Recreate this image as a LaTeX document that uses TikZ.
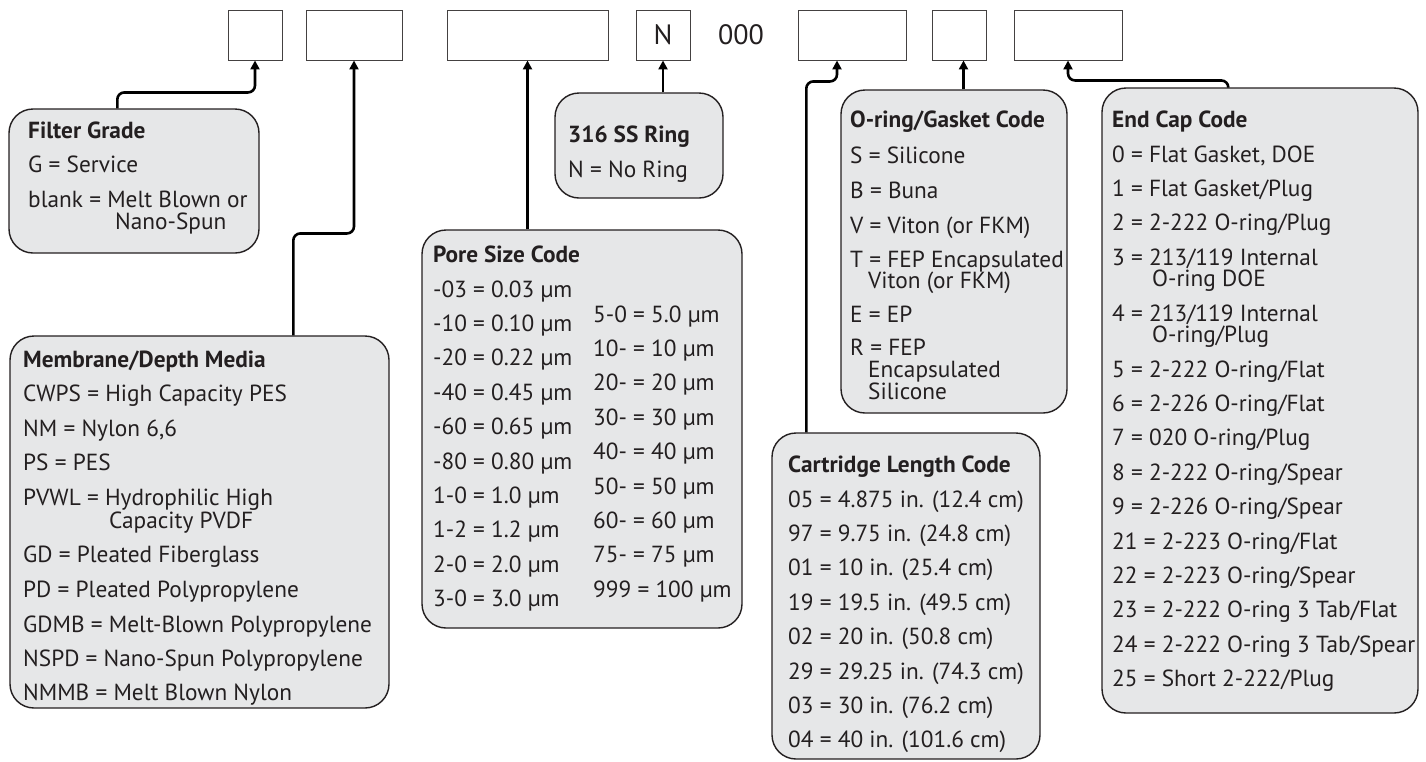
\documentclass[tikz,border=0pt]{standalone}
\usepackage{fontspec}
\setmainfont{PT Sans}
\usetikzlibrary{arrows.meta}
\definecolor{ink}{HTML}{231F20}
\definecolor{panel}{HTML}{E6E7E8}
\begin{document}
\begin{tikzpicture}[x=1pt,y=-1pt,
  codebox/.style={draw=ink!85, line width=0.9pt, fill=white, inner sep=0pt},
  infobox/.style={draw=ink, line width=1.4pt, fill=panel, rounded corners=24pt, inner sep=0pt},
  conn/.style={draw=black, line width=2.6pt, rounded corners=7pt, -{Triangle[length=9pt,width=9pt]}},
  txt/.style={anchor=base west, inner sep=0pt, text=ink, font=\fontsize{23.3}{28}\selectfont},
  ttl/.style={txt, font=\fontsize{23.3}{28}\selectfont\bfseries},
  big/.style={inner sep=0pt, text=ink, font=\fontsize{28}{32}\selectfont}]
\useasboundingbox (0,0) rectangle (1426,761);

% top code boxes
\node[codebox, minimum width=54pt, minimum height=50pt] (b1) at (255,35) {};
\node[codebox, minimum width=96pt, minimum height=50pt] (b2) at (354,35) {};
\node[codebox, minimum width=161pt, minimum height=50pt] (b3) at (527.5,35) {};
\node[codebox, minimum width=54pt, minimum height=50pt] (bn) at (663,35) {};
\node[big] (nlet) at (663,35) {N};
\node[big] (zeros) at (741,35) {000};
\node[codebox, minimum width=108pt, minimum height=50pt] (b5) at (852,35) {};
\node[codebox, minimum width=54pt, minimum height=50pt] (b6) at (959.5,35) {};
\node[codebox, minimum width=108pt, minimum height=50pt] (b7) at (1068,35) {};

% info boxes
\node[infobox, minimum width=250pt, minimum height=144pt] (fg) at (134,181) {};
\node[infobox, minimum width=379pt, minimum height=372pt] (mm) at (199.5,522) {};
\node[infobox, minimum width=320pt, minimum height=398pt] (ps) at (582,429) {};
\node[infobox, minimum width=168pt, minimum height=105pt] (ring) at (639,145.5) {};
\node[infobox, minimum width=268pt, minimum height=326pt] (cl) at (906,596) {};
\node[infobox, minimum width=226pt, minimum height=323pt] (og) at (954,251.5) {};
\node[infobox, minimum width=316pt, minimum height=625pt] (ec) at (1260,400.5) {};

% connectors
\draw[conn] ([xshift=109pt]fg.north west) |- ([yshift=-32pt]b1.south) -- (b1.south);
\draw[conn] ([xshift=284pt]mm.north west) |- ([yshift=-173pt]b2.south) -- (b2.south);
\draw[conn] (b3.south |- ps.north) -- (b3.south);
\draw[conn] (bn.south |- ring.north) -- (bn.south);
\coordinate (b5in) at ([xshift=-15pt]b5.south);
\draw[conn] ([xshift=35pt]cl.north west) |- ([yshift=-21pt]b5in) -- (b5in);
\coordinate (b6in) at ([xshift=4pt]b6.south);
\draw[conn] (b6in |- og.north) -- (b6in);
\draw[conn] ([xshift=127pt]ec.north west) |- ([yshift=-20pt]b7.south) -- (b7.south);

% Filter Grade
\node[ttl] (fgt) at (28,138) {Filter Grade};
\node[txt] (fg1) at (28,172) {G = Service};
\node[txt] (fg2) at (28,207) {blank = Melt Blown or};
\node[txt] (fg3) at (115,229) {Nano-Spun};

% Membrane
\node[ttl] (mmt) at (23,367) {Membrane/Depth Media};
\node[txt] (mm1) at (23,401) {CWPS = High Capacity PES};
\node[txt] (mm2) at (23,436) {NM = Nylon 6,6};
\node[txt] (mm3) at (23,470) {PS = PES};
\node[txt] (mm4) at (23,505) {PVWL = Hydrophilic High};
\node[txt] (mm4b) at (109,528) {Capacity PVDF};
\node[txt] (mm5) at (23,562) {GD = Pleated Fiberglass};
\node[txt] (mm6) at (23,597) {PD = Pleated Polypropylene};
\node[txt] (mm7) at (23,632) {GDMB = Melt-Blown Polypropylene};
\node[txt] (mm8) at (23,666) {NSPD = Nano-Spun Polypropylene};
\node[txt] (mm9) at (23,700) {NMMB = Melt Blown Nylon};

% Pore size
\node[ttl] (pst) at (433,262) {Pore Size Code};
\node[txt] (pa0) at (433,297.0) {-03 = 0.03 µm};
\node[txt] (pa1) at (433,331.4) {-10 = 0.10 µm};
\node[txt] (pa2) at (433,365.8) {-20 = 0.22 µm};
\node[txt] (pa3) at (433,400.2) {-40 = 0.45 µm};
\node[txt] (pa4) at (433,434.6) {-60 = 0.65 µm};
\node[txt] (pa5) at (433,469.0) {-80 = 0.80 µm};
\node[txt] (pa6) at (433,503.4) {1-0 = 1.0 µm};
\node[txt] (pa7) at (433,537.8) {1-2 = 1.2 µm};
\node[txt] (pa8) at (433,572.2) {2-0 = 2.0 µm};
\node[txt] (pa9) at (433,606.6) {3-0 = 3.0 µm};
\node[txt] (pb0) at (593,322.0) {5-0 = 5.0 µm};
\node[txt] (pb1) at (593,356.4) {10- = 10 µm};
\node[txt] (pb2) at (593,390.8) {20- = 20 µm};
\node[txt] (pb3) at (593,425.2) {30- = 30 µm};
\node[txt] (pb4) at (593,459.6) {40- = 40 µm};
\node[txt] (pb5) at (593,494.0) {50- = 50 µm};
\node[txt] (pb6) at (593,528.4) {60- = 60 µm};
\node[txt] (pb7) at (593,562.8) {75- = 75 µm};
\node[txt] (pb8) at (593,597.2) {999 = 100 µm};

% 316 SS ring
\node[ttl] (rt) at (568,142) {316 SS Ring};
\node[txt] (r1) at (568,177) {N = No Ring};

% Cartridge length
\node[ttl] (clt) at (788,472) {Cartridge Length Code};
\node[txt] (c0) at (788,507.0) {05 = 4.875 in. (12.4 cm)};
\node[txt] (c1) at (788,541.4) {97 = 9.75 in. (24.8 cm)};
\node[txt] (c2) at (788,575.8) {01 = 10 in. (25.4 cm)};
\node[txt] (c3) at (788,610.2) {19 = 19.5 in. (49.5 cm)};
\node[txt] (c4) at (788,644.6) {02 = 20 in. (50.8 cm)};
\node[txt] (c5) at (788,679.0) {29 = 29.25 in. (74.3 cm)};
\node[txt] (c6) at (788,713.4) {03 = 30 in. (76.2 cm)};
\node[txt] (c7) at (788,747.8) {04 = 40 in. (101.6 cm)};

% O-ring / gasket
\node[ttl] (ogt) at (850,127) {O-ring/Gasket Code};
\node[txt] (o1) at (850,163) {S = Silicone};
\node[txt] (o2) at (850,198) {B = Buna};
\node[txt] (o3) at (850,233) {V = Viton (or FKM)};
\node[txt] (o4) at (850,267) {T = FEP Encapsulated};
\node[txt] (o4b) at (868,288) {Viton (or FKM)};
\node[txt] (o5) at (850,322) {E = EP};
\node[txt] (o6) at (850,355) {R = FEP};
\node[txt] (o6b) at (868,377) {Encapsulated};
\node[txt] (o6c) at (868,399) {Silicone};

% End cap
\node[ttl] (ect) at (1112,127) {End Cap Code};
\node[txt] (e0) at (1112,162.0) {0 = Flat Gasket, DOE};
\node[txt] (e1) at (1112,196.4) {1 = Flat Gasket/Plug};
\node[txt] (e2) at (1112,230.8) {2 = 2-222 O-ring/Plug};
\node[txt] (e3) at (1112,265.2) {3 = 213/119 Internal};
\node[txt] (e3b) at (1152,286.7) {O-ring DOE};
\node[txt] (e4) at (1112,321.1) {4 = 213/119 Internal};
\node[txt] (e4b) at (1152,342.6) {O-ring/Plug};
\node[txt] (e5) at (1112,377.0) {5 = 2-222 O-ring/Flat};
\node[txt] (e6) at (1112,411.4) {6 = 2-226 O-ring/Flat};
\node[txt] (e7) at (1112,445.8) {7 = 020 O-ring/Plug};
\node[txt] (e8) at (1112,480.2) {8 = 2-222 O-ring/Spear};
\node[txt] (e9) at (1112,514.6) {9 = 2-226 O-ring/Spear};
\node[txt] (e21) at (1112,549.0) {21 = 2-223 O-ring/Flat};
\node[txt] (e22) at (1112,583.4) {22 = 2-223 O-ring/Spear};
\node[txt] (e23) at (1112,617.8) {23 = 2-222 O-ring 3 Tab/Flat};
\node[txt] (e24) at (1112,652.2) {24 = 2-222 O-ring 3 Tab/Spear};
\node[txt] (e25) at (1112,686.6) {25 = Short 2-222/Plug};
\end{tikzpicture}
\end{document}
